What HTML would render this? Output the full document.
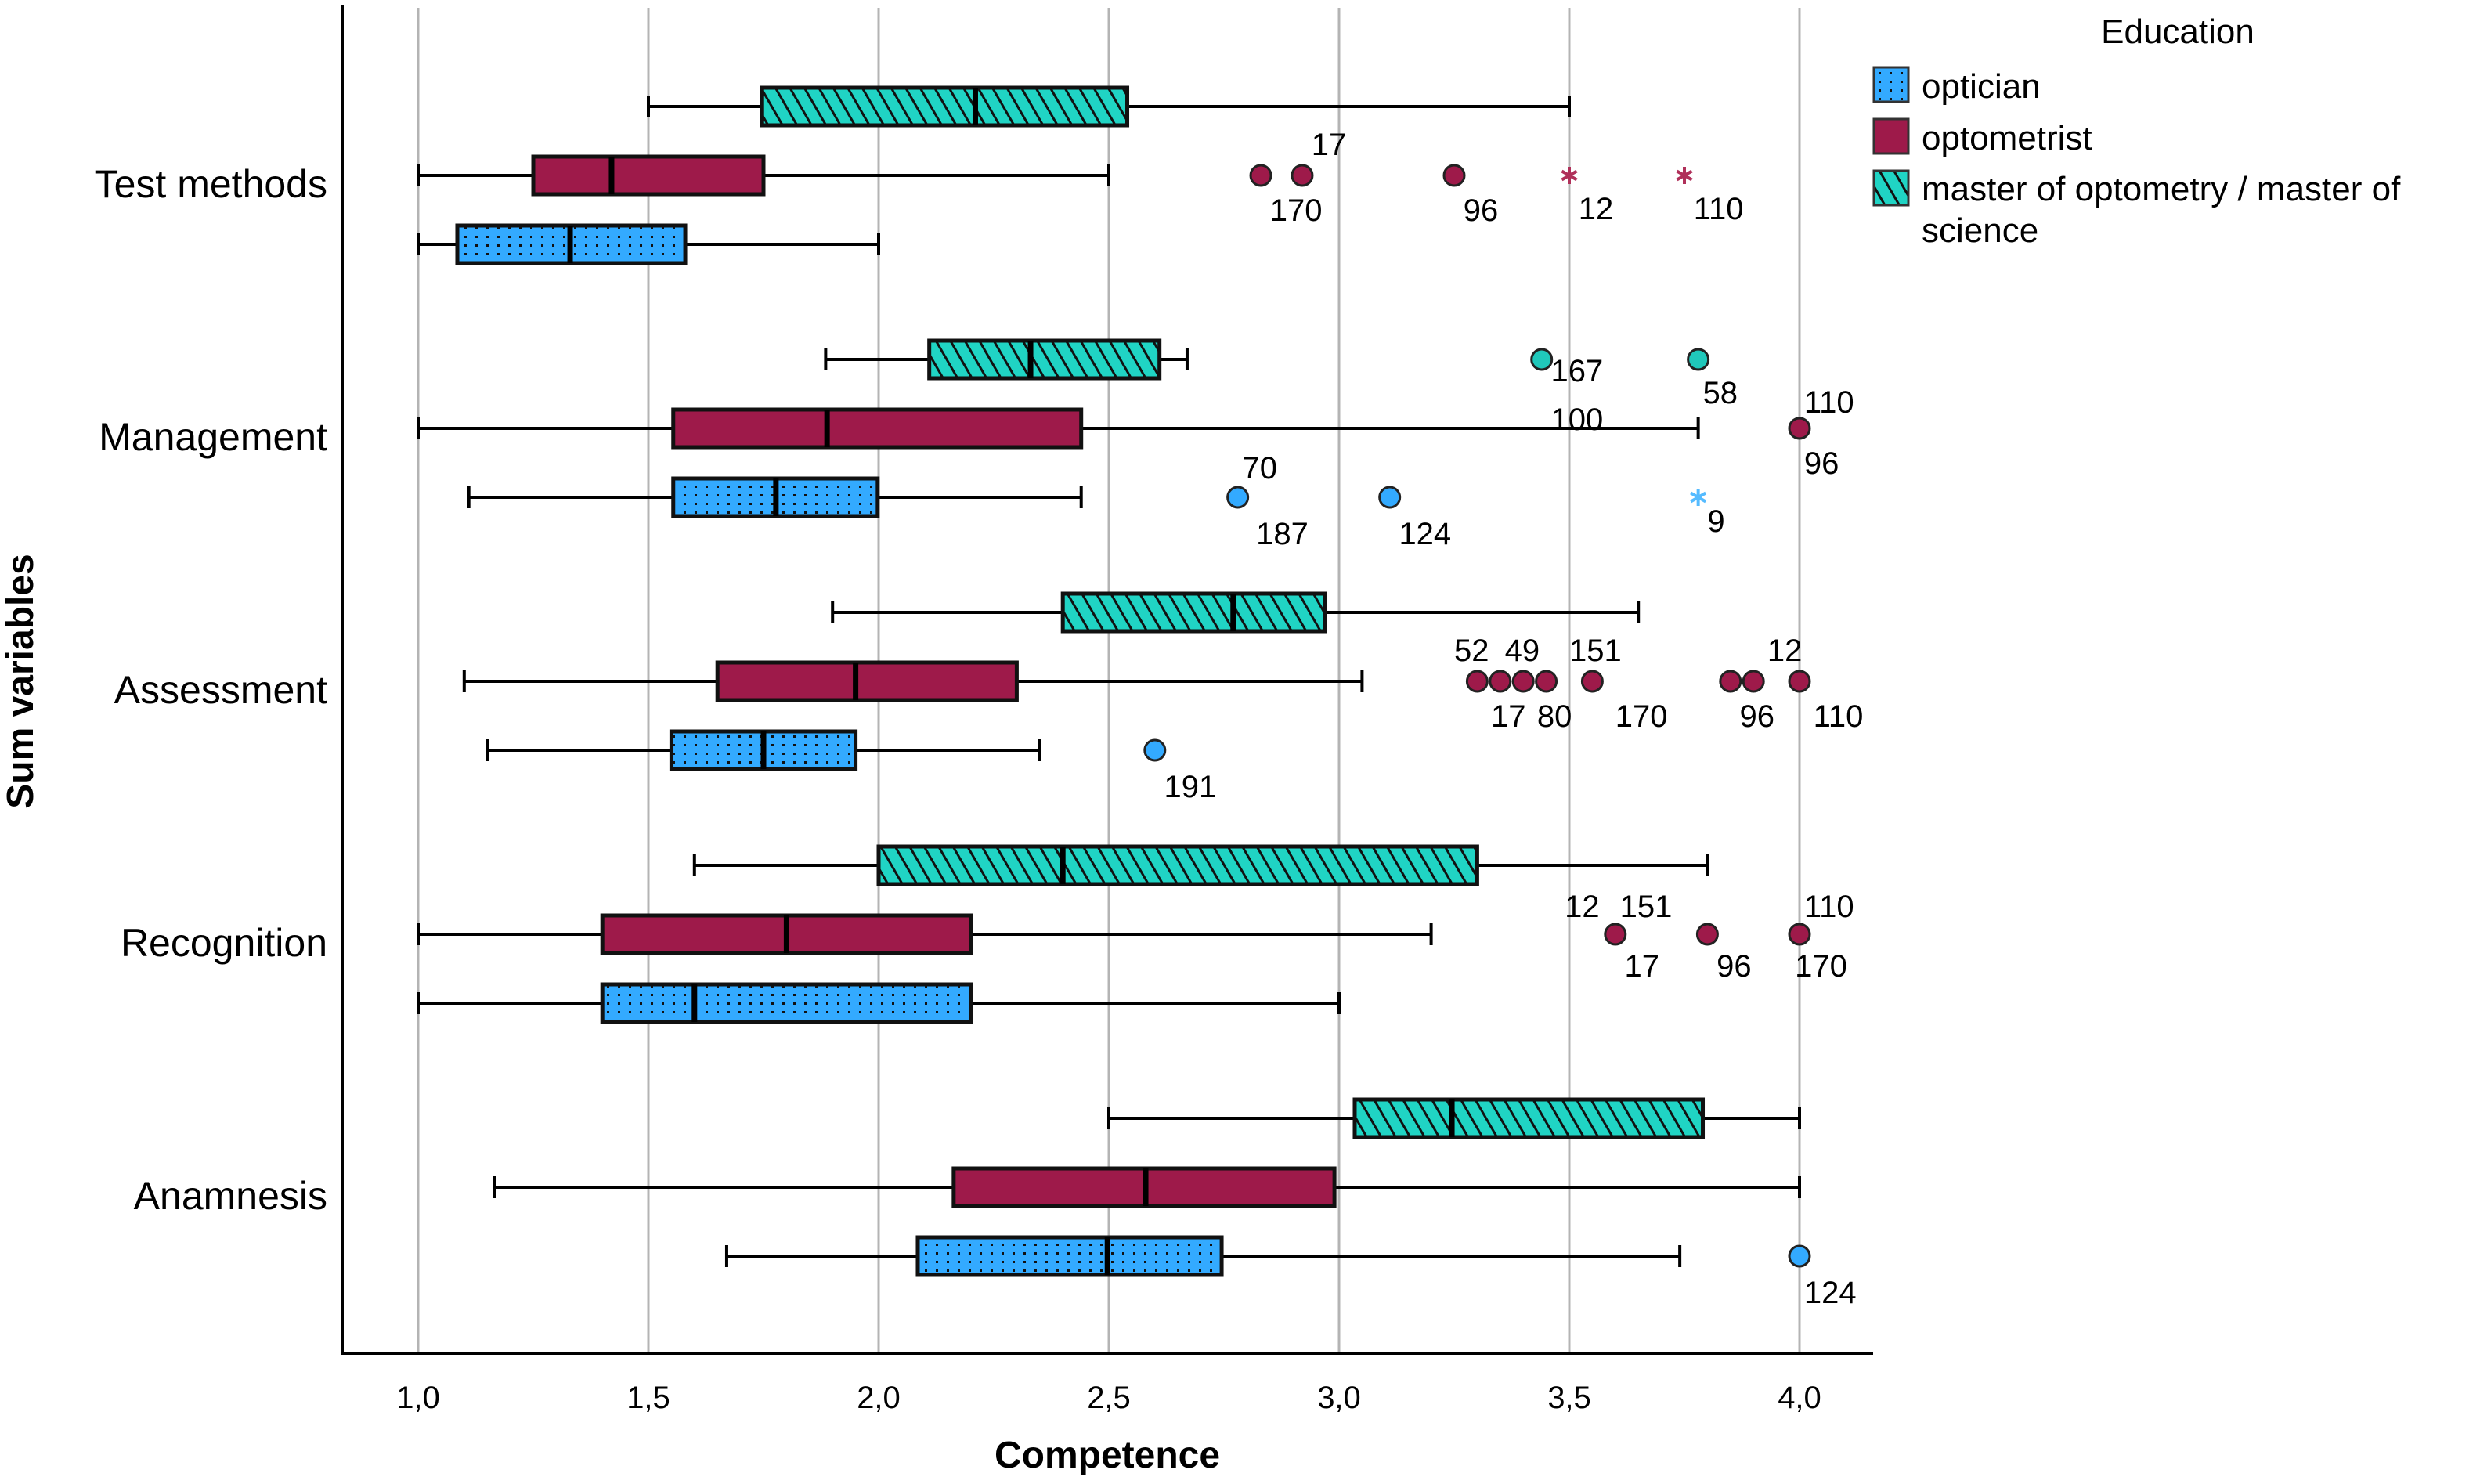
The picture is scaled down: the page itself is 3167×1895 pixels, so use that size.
<!DOCTYPE html>
<html><head><meta charset="utf-8"><style>
html,body{margin:0;padding:0;background:#fff;}
svg{display:block;font-family:"Liberation Sans",Arial,sans-serif;}
</style></head><body>
<svg id="chart" width="3167" height="1895" viewBox="0 0 3167 1895" xmlns="http://www.w3.org/2000/svg">
<defs>
<pattern id="hatch" patternUnits="userSpaceOnUse" width="16" height="16" patternTransform="rotate(-30)">
<rect width="16" height="16" fill="#20d4c4"/><rect x="0" y="0" width="3" height="16" fill="#111"/>
</pattern>
<pattern id="dots" patternUnits="userSpaceOnUse" width="14" height="11">
<rect width="14" height="11" fill="#33aaff"/><rect x="5" y="4" width="3" height="3" fill="#111"/>
</pattern>
</defs>
<g id="grid"></g>
<g id="boxes"></g>
<g id="outl"></g>
<g id="axes">
<line x1="437" y1="6" x2="437" y2="1729" stroke="#000" stroke-width="4"/>
<line x1="435" y1="1728" x2="2392" y2="1728" stroke="#000" stroke-width="4"/>
</g>
<text x="1414" y="1874" font-size="48" font-weight="bold" text-anchor="middle">Competence</text>
<text transform="translate(42,870) rotate(-90)" font-size="48" font-weight="bold" text-anchor="middle">Sum variables</text>
<g>
<text x="2781" y="55" font-size="44" text-anchor="middle">Education</text>
<rect x="2393" y="86" width="44" height="44" fill="url(#dots)" stroke="#333" stroke-width="3"/>
<text x="2454" y="125" font-size="44">optician</text>
<rect x="2393" y="152" width="44" height="44" fill="#9e1a4a" stroke="#333" stroke-width="3"/>
<text x="2454" y="191" font-size="44">optometrist</text>
<rect x="2393" y="218" width="44" height="44" fill="url(#hatch)" stroke="#333" stroke-width="3"/>
<text x="2454" y="256" font-size="44">master of optometry / master of</text>
<text x="2454" y="309" font-size="44">science</text>
</g>
</svg>
<script>
const categories=["Test methods","Management","Assessment","Recognition","Anamnesis"];
const xTicks=[1.0,1.5,2.0,2.5,3.0,3.5,4.0];
const xTickLabels=["1,0","1,5","2,0","2,5","3,0","3,5","4,0"];
const groups=["master","optometrist","optician"];
// [wLow,q1,median,q3,wHigh] per category
const masterStats=[[1.5,1.747,2.21,2.54,3.5],[1.885,2.11,2.33,2.61,2.67],[1.9,2.4,2.77,2.97,3.65],[1.6,2.0,2.4,3.3,3.8],[2.5,3.034,3.245,3.79,4.0]];
const optometristStats=[[1.0,1.25,1.42,1.75,2.5],[1.0,1.554,1.888,2.44,3.78],[1.1,1.65,1.95,2.3,3.05],[1.0,1.4,1.8,2.2,3.2],[1.165,2.163,2.58,2.99,4.0]];
const opticianStats=[[1.0,1.085,1.33,1.58,2.0],[1.11,1.554,1.777,1.998,2.44],[1.15,1.55,1.75,1.95,2.35],[1.0,1.4,1.6,2.2,3.0],[1.67,2.085,2.497,2.745,3.74]];
// outliers: [categoryIndex, groupIndex, value, type]
const outlierPoints=[[0,1,2.83,"o"],[0,1,2.92,"o"],[0,1,3.25,"o"],[0,1,3.5,"*"],[0,1,3.75,"*"],
[1,0,3.44,"o"],[1,0,3.78,"o"],[1,1,4.0,"o"],[1,2,2.78,"o"],[1,2,3.11,"o"],[1,2,3.78,"*"],
[2,1,3.3,"o"],[2,1,3.35,"o"],[2,1,3.4,"o"],[2,1,3.45,"o"],[2,1,3.55,"o"],[2,1,3.85,"o"],[2,1,3.9,"o"],[2,1,4.0,"o"],[2,2,2.6,"o"],
[3,1,3.6,"o"],[3,1,3.8,"o"],[3,1,4.0,"o"],[4,2,4.0,"o"]];
// labels: [categoryIndex, groupIndex, startValue, verticalOffset, text]
const outlierLabels=[[0,1,2.94,-40,"17"],[0,1,2.85,44,"170"],[0,1,3.27,44,"96"],[0,1,3.52,42,"12"],[0,1,3.77,42,"110"],
[1,0,3.46,14,"167"],[1,0,3.79,42,"58"],[1,1,4.01,-34,"110"],[1,1,4.01,44,"96"],[1,1,3.46,-12,"100"],[1,2,2.79,-38,"70"],[1,2,2.82,46,"187"],[1,2,3.13,46,"124"],[1,2,3.8,30,"9"],
[2,1,3.25,-40,"52"],[2,1,3.36,-40,"49"],[2,1,3.5,-40,"151"],[2,1,3.93,-40,"12"],[2,1,3.33,44,"17"],[2,1,3.43,44,"80"],[2,1,3.6,44,"170"],[2,1,3.87,44,"96"],[2,1,4.03,44,"110"],[2,2,2.62,46,"191"],
[3,1,3.49,-36,"12"],[3,1,3.61,-36,"151"],[3,1,4.01,-36,"110"],[3,1,3.62,40,"17"],[3,1,3.82,40,"96"],[3,1,3.99,40,"170"],[4,2,4.01,46,"124"]];

const NS="http://www.w3.org/2000/svg";
function xs(v){return 534+(v-1)*588;}
function ys(ci,gi){return 224+ci*323+(gi-1)*88;}
const fills=["url(#hatch)","#9e1a4a","url(#dots)"];
const outFill=["#20c8bb","#9e1a4a","#33aaff"];
const starCol=["#20c8bb","#b0305a","#55bbff"];
function mk(tag,attrs,parent){const e=document.createElementNS(NS,tag);for(const k in attrs)e.setAttribute(k,attrs[k]);parent.appendChild(e);return e;}
const grid=document.getElementById('grid'),boxes=document.getElementById('boxes'),outl=document.getElementById('outl'),axes=document.getElementById('axes');
xTicks.forEach((t,i)=>{
 const l=mk('line',{x1:xs(t),x2:xs(t),y1:10,y2:1728,stroke:'#b4b4b4','stroke-width':3},grid);
 
 
 const tx=mk('text',{x:xs(t),y:1798,'font-size':40,'text-anchor':'middle'},axes);
 tx.textContent=xTickLabels[i];
 
 
});
categories.forEach((c,ci)=>{
 const t=mk('text',{x:418,y:ys(ci,1)+28,'font-size':50,'text-anchor':'end'},axes);
 t.textContent=c;
 
 
});
const allStats=[masterStats,optometristStats,opticianStats];
allStats.forEach((st,gi)=>{st.forEach((s,ci)=>{
 const y=ys(ci,gi),h=48;
 const g=mk('g',{},boxes);
 
 
 mk('line',{x1:xs(s[0]),x2:xs(s[4]),y1:y,y2:y,stroke:'#000','stroke-width':4},g);
 mk('line',{x1:xs(s[0]),x2:xs(s[0]),y1:y-14,y2:y+14,stroke:'#000','stroke-width':4},g);
 mk('line',{x1:xs(s[4]),x2:xs(s[4]),y1:y-14,y2:y+14,stroke:'#000','stroke-width':4},g);
 mk('rect',{x:xs(s[1]),y:y-h/2,width:xs(s[3])-xs(s[1]),height:h,fill:fills[gi],stroke:'#111','stroke-width':5},g);
 mk('line',{x1:xs(s[2]),x2:xs(s[2]),y1:y-h/2,y2:y+h/2,stroke:'#000','stroke-width':7},g);
});});
outlierPoints.forEach(p=>{
 const x=xs(p[2]),y=ys(p[0],p[1]);
 let e;
 if(p[3]==="o"){e=mk('circle',{cx:x,cy:y,r:13,fill:outFill[p[1]],stroke:'#222','stroke-width':3},outl);}
 else{e=mk('g',{stroke:starCol[p[1]],'stroke-width':4},outl);
  for(let a=0;a<3;a++){const an=a*Math.PI/3+Math.PI/2;mk('line',{x1:x-11*Math.cos(an),y1:y-11*Math.sin(an),x2:x+11*Math.cos(an),y2:y+11*Math.sin(an)},e);}}
 
 
});
outlierLabels.forEach(l=>{
 const t=mk('text',{x:xs(l[2]),y:ys(l[0],l[1])+l[3]+14,'font-size':40},outl);
 t.textContent=l[4];
 
 
});
</script>
</body></html>
